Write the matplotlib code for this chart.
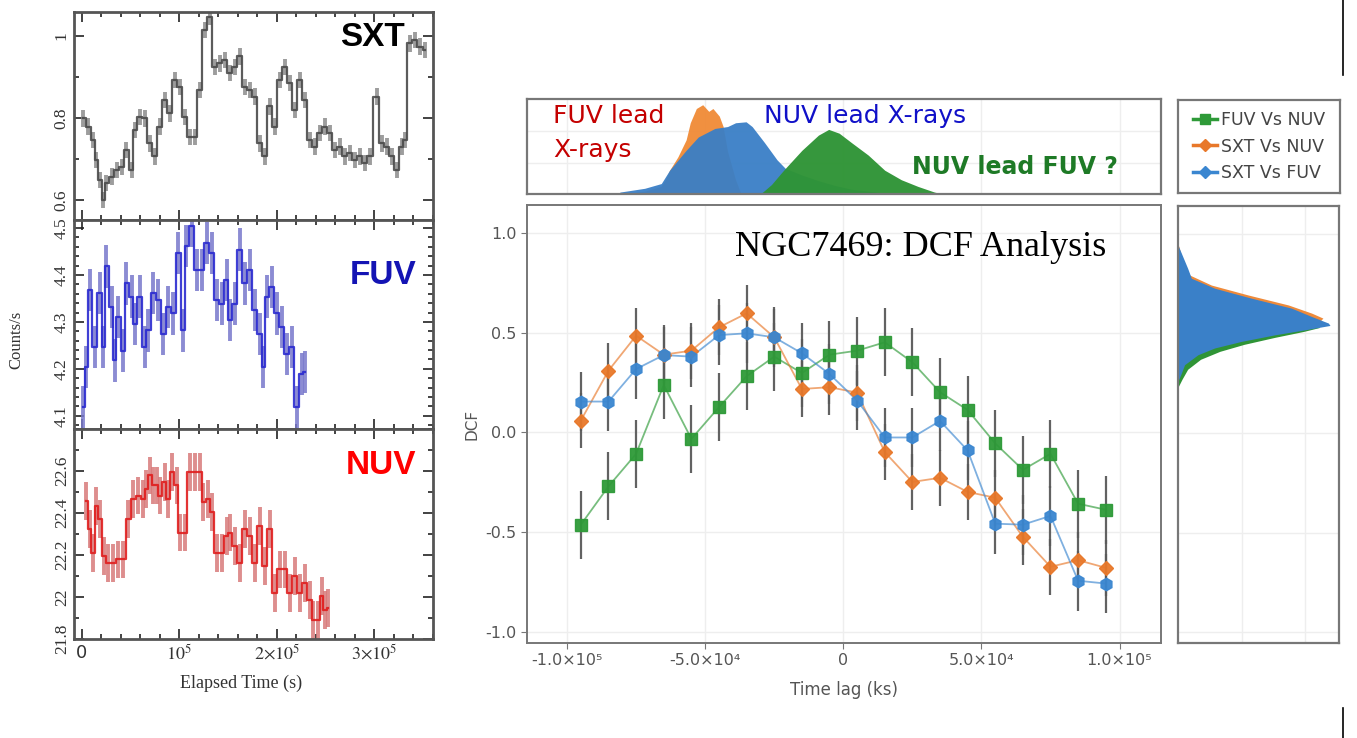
import matplotlib
matplotlib.use('Agg')
import matplotlib.pyplot as plt
import numpy as np
from matplotlib.lines import Line2D
from matplotlib.ticker import MultipleLocator, FixedLocator

plt.rcParams['mathtext.fontset'] = 'stix'

# ---------------- light curves (time in ks) ----------------
sxt_t = [1.4, 6.5, 11.6, 15.0, 18.5, 21.9, 25.3, 30.5, 35.6, 40.7,
         45.8, 51.0, 54.4, 59.5, 64.6, 69.7, 74.9, 80.0, 85.1, 90.3,
         95.4, 100.5, 105.6, 110.8, 115.9, 121.0, 126.2, 131.3, 136.4, 141.5,
         146.7, 151.8, 156.9, 162.0, 167.2, 172.3, 177.4, 182.6, 187.7, 192.8,
         197.9, 203.1, 208.2, 213.3, 218.5, 223.6, 228.7, 233.8, 239.0, 244.1,
         249.2, 254.4, 259.5, 264.6, 269.7, 274.9, 280.0, 285.1, 290.3, 295.4,
         302.2, 307.4, 312.5, 317.6, 322.8, 327.9, 331.3, 336.4, 341.5, 346.7, 351.8]
sxt_v = [0.799, 0.779, 0.746, 0.698, 0.649, 0.60, 0.641, 0.657, 0.673, 0.681,
         0.722, 0.673, 0.771, 0.803, 0.799, 0.738, 0.706, 0.779, 0.844, 0.811,
         0.893, 0.876, 0.803, 0.754, 0.754, 0.868, 1.015, 1.047, 0.925, 0.933,
         0.941, 0.909, 0.925, 0.95, 0.876, 0.868, 0.852, 0.738, 0.706, 0.828,
         0.779, 0.893, 0.925, 0.885, 0.82, 0.893, 0.844, 0.746, 0.73, 0.763,
         0.779, 0.763, 0.722, 0.73, 0.706, 0.714, 0.698, 0.706, 0.69, 0.706,
         0.852, 0.738, 0.73, 0.706, 0.673, 0.73, 0.746, 0.982, 0.99, 0.974, 0.966]
sxt_err = 0.02

fuv_t = [1.4, 4.8, 8.2, 13.3, 18.5, 21.9, 25.3, 30.5, 33.8, 37.3,
         42.4, 45.8, 51.0, 54.4, 59.5, 64.6, 68.0, 73.2, 78.3, 83.4,
         88.5, 93.7, 98.8, 103.9, 107.3, 112.5, 117.6, 122.7, 127.9, 133.0,
         138.1, 143.2, 148.4, 151.8, 156.9, 162.0, 167.2, 172.3, 177.4, 182.6,
         186.0, 189.4, 194.5, 199.7, 204.8, 209.9, 215.1, 220.2, 225.3, 228.7]
fuv_v = [4.118, 4.204, 4.368, 4.246, 4.361, 4.246, 4.418, 4.332, 4.218, 4.311,
         4.239, 4.382, 4.354, 4.296, 4.354, 4.246, 4.282, 4.361, 4.346, 4.275,
         4.332, 4.318, 4.446, 4.282, 4.461, 4.504, 4.411, 4.411, 4.468, 4.446,
         4.346, 4.339, 4.389, 4.304, 4.339, 4.454, 4.382, 4.411, 4.325, 4.275,
         4.204, 4.354, 4.375, 4.318, 4.289, 4.232, 4.246, 4.118, 4.189, 4.193]
fuv_err = 0.045

nuv_t = [4.8, 8.2, 11.6, 15.0, 18.5, 22.6, 27.0, 32.1, 37.3, 42.4,
         47.5, 52.6, 57.8, 62.9, 66.3, 69.7, 73.2, 76.6, 80.0, 85.1,
         88.5, 92.0, 97.1, 100.5, 105.6, 110.8, 115.9, 121.0, 124.4, 129.6,
         133.0, 138.1, 143.2, 148.4, 151.8, 156.9, 162.0, 167.2, 172.3, 177.4,
         182.6, 187.7, 192.8, 197.9, 203.1, 208.2, 213.3, 218.5, 223.6, 228.7,
         233.8, 237.3, 242.4, 245.8, 249.2, 252.6]
nuv_v = [22.459, 22.323, 22.211, 22.435, 22.371, 22.195, 22.163, 22.163, 22.179, 22.179,
         22.371, 22.467, 22.483, 22.467, 22.515, 22.579, 22.531, 22.531, 22.483, 22.547,
         22.467, 22.595, 22.531, 22.307, 22.307, 22.595, 22.595, 22.595, 22.451, 22.467,
         22.403, 22.211, 22.211, 22.291, 22.307, 22.243, 22.163, 22.323, 22.291, 22.163,
         22.339, 22.147, 22.323, 22.019, 22.131, 22.131, 22.019, 22.099, 22.019, 22.067,
         21.987, 21.891, 21.891, 22.003, 21.939, 21.947]
nuv_err = 0.09

# ---------------- DCF (lag in ks) ----------------
lags = [-95, -85, -75, -65, -55, -45, -35, -25, -15, -5,
        5, 15, 25, 35, 45, 55, 65, 75, 85, 95]
dcf_fuv_nuv = [-0.462, -0.27, -0.107, 0.238, -0.032, 0.127, 0.282, 0.38, 0.298, 0.39,
               0.41, 0.452, 0.352, 0.202, 0.113, -0.055, -0.187, -0.107, -0.357, -0.387]
dcf_sxt_nuv = [0.06, 0.31, 0.485, 0.39, 0.41, 0.527, 0.597, 0.477, 0.218, 0.227,
               0.20, -0.098, -0.248, -0.227, -0.298, -0.327, -0.523, -0.673, -0.64, -0.678]
dcf_sxt_fuv = [0.155, 0.155, 0.318, 0.388, 0.38, 0.488, 0.497, 0.477, 0.397, 0.293,
               0.16, -0.025, -0.025, 0.058, -0.09, -0.457, -0.462, -0.418, -0.743, -0.757]
err_fuv_nuv = 0.17
err_sxt_nuv = 0.14
err_sxt_fuv = 0.15
series_labels = ['FUV Vs NUV', 'SXT Vs NUV', 'SXT Vs FUV']

# ---------------- lag distributions (top) ----------------
top_or_lag = [-80, -72, -66, -64.4, -62.9, -59.9, -56.9, -55.4, -53.2, -50.9,
              -48.7, -47.2, -44.9, -43.5, -41.9, -39.0, -37.0]
top_or_h = [0.0, 0.03, 0.08, 0.15, 0.25, 0.39, 0.57, 0.75, 0.90, 0.94,
            0.87, 0.90, 0.82, 0.71, 0.45, 0.15, 0.0]
top_bl_lag = [-80.9, -71.9, -65.9, -62.9, -56.9, -52.5, -46.5, -41.9, -39.0, -35.2,
              -33.0, -28.5, -24.0, -21.0, -15.0, -9.0, -3.0, 3.0, 9.0, 15.0, 22.0]
top_bl_h = [0.02, 0.06, 0.11, 0.25, 0.46, 0.60, 0.69, 0.71, 0.75, 0.76,
            0.71, 0.54, 0.36, 0.27, 0.20, 0.14, 0.09, 0.05, 0.03, 0.01, 0.0]
top_gr_lag = [-30.0, -26.0, -22.5, -21.0, -15.0, -9.0, -5.3, -1.5, 3.0, 9.0,
              15.0, 21.0, 27.0, 33.0, 36.0]
top_gr_h = [0.0, 0.10, 0.22, 0.27, 0.46, 0.62, 0.68, 0.64, 0.54, 0.41,
            0.25, 0.15, 0.08, 0.02, 0.0]

# ---------------- DCF distributions (right) ----------------
rh_bl_dcf = [0.26, 0.293, 0.343, 0.393, 0.427, 0.46, 0.493, 0.518, 0.54, 0.552,
             0.585, 0.627, 0.677, 0.727, 0.777, 0.827, 0.943]
rh_bl_w = [0.0, 0.017, 0.041, 0.124, 0.228, 0.394, 0.602, 0.788, 0.944, 0.934,
           0.83, 0.705, 0.456, 0.228, 0.083, 0.06, 0.0]
rh_or_dcf = [0.30, 0.40, 0.46, 0.50, 0.53, 0.56, 0.577, 0.602, 0.643, 0.693,
             0.743, 0.793, 0.84, 0.95]
rh_or_w = [0.0, 0.05, 0.25, 0.50, 0.78, 0.88, 0.90, 0.83, 0.685, 0.436,
           0.207, 0.073, 0.04, 0.0]
rh_gr_dcf = [0.23, 0.27, 0.32, 0.37, 0.41, 0.445, 0.48, 0.51, 0.53, 0.55,
             0.58, 0.62, 0.67, 0.72, 0.80, 0.90]
rh_gr_w = [0.0, 0.025, 0.06, 0.14, 0.26, 0.41, 0.60, 0.78, 0.88, 0.85,
           0.70, 0.50, 0.30, 0.12, 0.03, 0.0]

C_GREEN = '#2e9a38'
C_ORANGE = '#e8782a'
C_BLUE = '#3a86d0'
SERIF = ['Liberation Serif', 'DejaVu Serif']

W, H = 1357, 738
fig = plt.figure(figsize=(W / 100, H / 100), dpi=100)


def rect(x0, y0, x1, y1):
    return [x0 / W, 1 - y1 / H, (x1 - x0) / W, (y1 - y0) / H]


# ================= left light-curve panels =================
def lc_panel(r, t, v, err, bar_col, line_col, ylim, yticks, ylabels, yminor,
             label, label_col, label_xy, bottom=False):
    ax = fig.add_axes(r)
    tt = np.asarray(t) * 1e3
    ax.errorbar(tt, v, yerr=err, fmt='none', ecolor=bar_col, elinewidth=2.8,
                alpha=0.85, zorder=2)
    ax.step(tt, v, where='mid', color=line_col, lw=1.6, zorder=3, alpha=0.9)
    ax.set_xlim(-8e3, 3.6e5)
    ax.set_ylim(*ylim)
    ax.xaxis.set_major_locator(FixedLocator([0, 1e5, 2e5, 3e5]))
    ax.xaxis.set_minor_locator(MultipleLocator(2e4))
    ax.yaxis.set_major_locator(FixedLocator(yticks))
    ax.yaxis.set_minor_locator(MultipleLocator(yminor))
    ax.set_yticklabels(ylabels, rotation=90, va='center', family=SERIF,
                       fontsize=12.5, color='#333333')
    ax.tick_params(which='both', direction='in', top=True, right=True,
                   color='#222222', width=1.2)
    ax.tick_params(which='major', length=7)
    ax.tick_params(which='minor', length=3.5)
    ax.tick_params(axis='y', pad=3)
    for s in ax.spines.values():
        s.set_linewidth(2.0)
        s.set_color('#555555')
    if bottom:
        ax.set_xticklabels(['0', r'$10^5$', r'$2{\times}10^5$', r'$3{\times}10^5$'],
                           fontsize=13, color='#333333')
        ax.set_xlabel('Elapsed Time (s)', family=SERIF, fontsize=13,
                      color='#333333', labelpad=2)
        ax.xaxis.set_label_coords((241 - 74) / 359, -0.17)
    else:
        ax.set_xticklabels([])
    fig.text(label_xy[0] / W, 1 - label_xy[1] / H, label, color=label_col,
             fontsize=24, fontweight='bold', ha='center', va='center',
             family='Liberation Sans', zorder=10)
    return ax


lc_panel(rect(74, 12, 433, 220), sxt_t, sxt_v, sxt_err, '#8c8c8c', '#4a4a4a',
         (0.551, 1.0585), [0.6, 0.8, 1.0], ['0.6', '0.8', '1'], 0.1,
         'SXT', 'black', (372, 37))
lc_panel(rect(74, 220, 433, 429), fuv_t, fuv_v, fuv_err, '#7878cc', '#2a2ad0',
         (4.072, 4.517), [4.1, 4.2, 4.3, 4.4, 4.5], ['4.1', '4.2', '4.3', '4.4', '4.5'],
         0.02, 'FUV', '#1414b4', (383, 275))
lc_panel(rect(74, 429, 433, 639), nuv_t, nuv_v, nuv_err, '#d87a7a', '#e01e1e',
         (21.8, 22.8), [21.8, 22.0, 22.2, 22.4, 22.6],
         ['21.8', '22', '22.2', '22.4', '22.6'], 0.1,
         'NUV', '#ff0000', (381, 465), bottom=True)
fig.text(16 / W, 1 - 340 / H, 'Counts/s', rotation=90, ha='center', va='center',
         family=SERIF, fontsize=12, color='#333333')

# ================= main DCF panel =================
XLIM = (-1.145e5, 1.15e5)
YLIM = (-1.055, 1.14)
ax = fig.add_axes(rect(527, 205, 1161, 643))
lag_s = np.asarray(lags) * 1e3
for vals, err, col, mk, ms in [(dcf_fuv_nuv, err_fuv_nuv, C_GREEN, 's', 8),
                               (dcf_sxt_nuv, err_sxt_nuv, C_ORANGE, 'D', 7),
                               (dcf_sxt_fuv, err_sxt_fuv, C_BLUE, 'h', 9)]:
    ax.plot(lag_s, vals, color=col, lw=1.3, alpha=0.65, zorder=2)
    ax.errorbar(lag_s, vals, yerr=err, fmt=mk, color=col, ms=ms, mec=col,
                ecolor='#5a5a5a', elinewidth=1.6, capsize=0, alpha=0.95, zorder=3)
ax.set_xlim(*XLIM)
ax.set_ylim(*YLIM)
ax.set_xticks([-1e5, -5e4, 0, 5e4, 1e5])
ax.set_xticklabels(['-1.0×10⁵', '-5.0×10⁴', '0', '5.0×10⁴', '1.0×10⁵'])
ax.set_yticks([-1.0, -0.5, 0.0, 0.5, 1.0])
ax.set_yticklabels(['-1.0', '-0.5', '0.0', '0.5', '1.0'])
ax.tick_params(labelsize=11.5, labelcolor='#555555', color='#777777', length=4)
ax.grid(True, color='#eeeeee', lw=1.0)
ax.set_axisbelow(True)
for s in ax.spines.values():
    s.set_color('#777777')
    s.set_linewidth(1.4)
ax.set_xlabel('Time lag (ks)', fontsize=12, color='#555555', labelpad=9)
ax.set_ylabel('DCF', fontsize=11, color='#555555', labelpad=4)
ax.text((735 - 527) / 634, (643 - 248) / 438, 'NGC7469: DCF Analysis',
        transform=ax.transAxes, family=SERIF, fontsize=26, ha='left', va='center')

# ================= top lag distribution =================
axt = fig.add_axes(rect(527, 99, 1161, 194))
axt.fill_between(np.asarray(top_or_lag) * 1e3, 0, top_or_h, color='#f08a36', lw=0, alpha=0.95)
axt.fill_between(np.asarray(top_bl_lag) * 1e3, 0, top_bl_h, color='#3a7fc6', lw=0, alpha=0.95)
axt.fill_between(np.asarray(top_gr_lag) * 1e3, 0, top_gr_h, color='#2f9436', lw=0, alpha=0.97)
axt.set_xlim(*XLIM)
axt.set_ylim(0, 1.0)
axt.set_xticks([-1e5, -5e4, 0, 5e4, 1e5])
axt.set_yticks([0.33, 0.66])
axt.grid(True, color='#eeeeee', lw=1.0)
axt.set_axisbelow(True)
axt.tick_params(labelbottom=False, labelleft=False, length=0)
for s in axt.spines.values():
    s.set_color('#777777')
    s.set_linewidth(1.6)
fig.text(553 / W, 1 - 116 / H, 'FUV lead', color='#c40000', fontsize=18,
         ha='left', va='center')
fig.text(553 / W, 1 - 150 / H, 'X-rays', color='#c40000', fontsize=18,
         ha='left', va='center')
fig.text(764 / W, 1 - 116 / H, 'NUV lead X-rays', color='#1010c8', fontsize=18,
         ha='left', va='center')
fig.text(912 / W, 1 - 167 / H, 'NUV lead FUV ?', color='#1e7a26', fontsize=17,
         fontweight='bold', ha='left', va='center')

# ================= right DCF distribution =================
axr = fig.add_axes(rect(1178, 206, 1339, 643))
axr.fill_betweenx(rh_gr_dcf, 0, rh_gr_w, color='#2f9436', lw=0)
axr.fill_betweenx(rh_or_dcf, 0, rh_or_w, color='#ee8a3a', lw=0)
axr.fill_betweenx(rh_bl_dcf, 0, rh_bl_w, color='#3a80c8', lw=0)
axr.set_ylim(*YLIM)
axr.set_xlim(0, 1.0)
axr.set_yticks([-1.0, -0.5, 0.0, 0.5, 1.0])
axr.set_xticks([0.4, 0.79])
axr.grid(True, color='#eeeeee', lw=1.0)
axr.set_axisbelow(True)
axr.tick_params(labelbottom=False, labelleft=False, length=0)
for s in axr.spines.values():
    s.set_color('#777777')
    s.set_linewidth(1.6)

# ================= legend box =================
axl = fig.add_axes(rect(1178, 100, 1340, 193))
axl.set_xticks([])
axl.set_yticks([])
for s in axl.spines.values():
    s.set_color('#777777')
    s.set_linewidth(1.6)
handles = [Line2D([0], [0], color=C_GREEN, marker='s', ms=7, lw=2.5),
           Line2D([0], [0], color=C_ORANGE, marker='D', ms=6, lw=2.5),
           Line2D([0], [0], color=C_BLUE, marker='D', ms=6, lw=2.5)]
leg = axl.legend(handles, series_labels, loc='center', frameon=False, fontsize=12.5,
                 handlelength=1.4, handletextpad=0.2, labelspacing=0.5,
                 borderaxespad=0.0)
for txt in leg.get_texts():
    txt.set_color('#444444')

# border artefacts at far right
fig.add_artist(Line2D([1343 / W] * 2, [1, 1 - 75 / H], transform=fig.transFigure,
                      color='black', lw=1.2))
fig.add_artist(Line2D([1343 / W] * 2, [1 - 708 / H, 0], transform=fig.transFigure,
                      color='black', lw=1.2))

fig.savefig('out.png', dpi=100)
